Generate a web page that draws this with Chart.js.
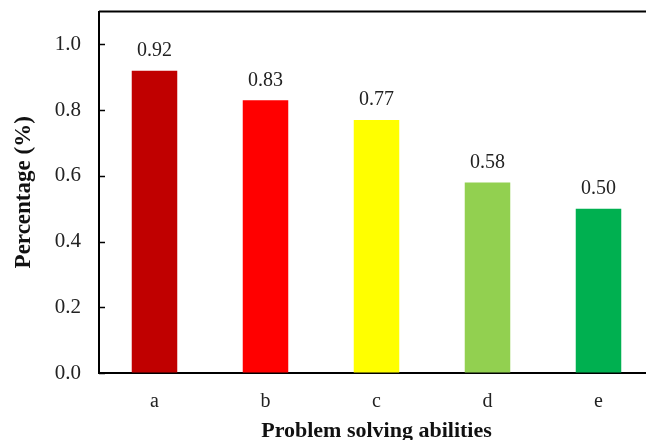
<!DOCTYPE html>
<html>
<head>
<meta charset="utf-8">
<script src="https://cdn.jsdelivr.net/npm/chart.js@4/dist/chart.umd.min.js"></script>
<style>
  html, body { margin:0; padding:0; background:#fff; overflow:hidden; }
  #wrap { position:relative; width:660px; height:461px; margin-top:-19px; }
</style>
</head>
<body>
<div id="wrap"><canvas id="chart"></canvas></div>
<script>
var categories = ['a', 'b', 'c', 'd', 'e']
var values = [0.92, 0.83, 0.77, 0.58, 0.50]
var barColors = ['#C00000', '#FF0000', '#FFFF00', '#92D050', '#00B050']
var yTicks = [0.0, 0.2, 0.4, 0.6, 0.8, 1.0]

var serif = '"Liberation Serif", "DejaVu Serif", serif'

// value labels above the bars + top frame line + inward y ticks
var extras = {
  id: 'extras',
  afterDatasetsDraw: function(chart){
    var ctx = chart.ctx
    var meta = chart.getDatasetMeta(0)
    ctx.save()
    ctx.fillStyle = '#222'
    ctx.font = '20px ' + serif
    ctx.textAlign = 'center'
    ctx.textBaseline = 'bottom'
    meta.data.forEach(function(bar, i){
      ctx.fillText(values[i].toFixed(2), bar.x, bar.y - 10)
    })
    var a = chart.chartArea
    ctx.strokeStyle = '#000'
    ctx.lineWidth = 2
    ctx.beginPath()
    ctx.moveTo(a.left, a.top)
    ctx.lineTo(a.right, a.top)
    ctx.stroke()
    var ys = chart.scales.y
    ctx.lineWidth = 1.5
    yTicks.forEach(function(v){
      var py = Math.round(ys.getPixelForValue(v)) + 0.5
      ctx.beginPath()
      ctx.moveTo(a.left, py)
      ctx.lineTo(a.left + 6, py)
      ctx.stroke()
    })
    ctx.restore()
  }
}

var chart = new Chart(document.getElementById('chart'), {
  type: 'bar',
  data: {
    labels: categories,
    datasets: [{
      data: values,
      backgroundColor: barColors,
      barPercentage: 0.41,
      categoryPercentage: 1.0
    }]
  },
  options: {
    responsive: true,
    maintainAspectRatio: false,
    animation: false,
    layout: { padding: { top: 0, right: 6, bottom: 0, left: 10 } },
    plugins: { legend: { display: false }, tooltip: { enabled: false } },
    scales: {
      x: {
        grid: { display: false, drawTicks: false, tickLength: 0 },
        border: { color: '#000', width: 2 },
        ticks: { color: '#222', font: { family: serif, size: 20, lineHeight: 1 }, padding: 19 },
        title: { display: true, text: 'Problem solving abilities', color: '#111',
                 font: { family: serif, size: 22, weight: 'bold', lineHeight: 1 }, padding: { top: -11, bottom: 0 } }
      },
      y: {
        min: 0, max: 1.1,
        afterBuildTicks: function(axis){ axis.ticks = yTicks.map(function(v){ return { value: v } }) },
        afterFit: function(axis){ axis.width = 89 },
        grid: { drawOnChartArea: false, drawTicks: false, tickLength: 0 },
        border: { color: '#000', width: 2 },
        ticks: { color: '#222', font: { family: serif, size: 21 }, padding: 18,
                 callback: function(v){ return Number(v).toFixed(1) } },
        title: { display: true, text: 'Percentage (%)', color: '#111',
                 font: { family: serif, size: 23, weight: 'bold' }, padding: { top: 0, bottom: 0 } }
      }
    }
  },
  plugins: [extras]
})
</script>
</body>
</html>
